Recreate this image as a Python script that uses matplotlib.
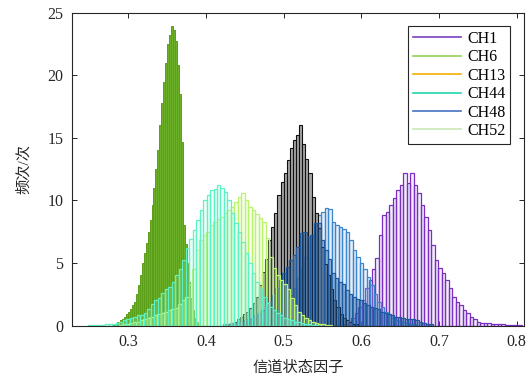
import numpy as np
import matplotlib
matplotlib.use("Agg")
import matplotlib.pyplot as plt
from matplotlib.lines import Line2D

plt.rcParams['font.family'] = ['Liberation Serif', 'Noto Sans CJK SC', 'DejaVu Sans']
plt.rcParams['mathtext.fontset'] = 'stix'

# ---- data: histogram heights (bin width, first bin centre, heights) ----
green_w, green_c0 = 0.0025, 0.28125
green_h = [0.1, 0.15, 0.3, 0.3, 0.4, 0.5, 0.7, 0.9, 1.1, 1.3, 1.6, 1.9, 2.5, 3.2, 4.0, 5.0,
           5.8, 6.6, 7.5, 8.4, 9.6, 11.0, 12.5, 14.0, 16.0, 17.8, 19.5, 21.0, 22.5, 23.2,
           23.9, 23.6, 22.7, 20.8, 18.5, 14.7, 8.0, 6.5, 5.0, 3.5, 2.2, 1.2, 0.6, 0.3, 0.1]

aqua_w, aqua_c0 = 0.0045, 0.25
aqua_h = [0.02, 0.03, 0.05, 0.05, 0.08, 0.1, 0.12, 0.15, 0.2, 0.3, 0.4, 0.5, 0.6, 0.7, 0.8,
          0.8, 1.0, 1.3, 1.7, 2.0, 2.2, 2.6, 2.9, 3.1, 3.5, 4.0, 4.5, 5.2, 6.2, 6.9, 7.6,
          8.4, 9.2, 10.0, 10.4, 10.8, 10.9, 11.2, 11.0, 10.7, 10.0, 9.0, 8.2, 7.5, 6.7,
          5.8, 5.0, 4.2, 3.5, 2.9, 2.3, 1.8, 1.5, 1.2, 1.0, 0.8, 0.6, 0.5, 0.4, 0.3, 0.25,
          0.2, 0.15, 0.1, 0.08, 0.05]

lime_w, lime_c0 = 0.0045, 0.29
lime_h = [0.05, 0.1, 0.15, 0.2, 0.25, 0.3, 0.4, 0.5, 0.6, 0.7, 0.8, 0.9, 1.0, 1.1, 1.2, 1.3,
          1.4, 1.7, 2.0, 2.3, 3.3, 4.5, 6.0, 6.8, 7.2, 7.5, 8.0, 8.3, 8.5, 8.7, 9.0, 9.2,
          9.5, 9.9, 10.3, 10.6, 10.0, 9.5, 9.2, 8.9, 8.6, 8.3, 7.0, 5.5, 4.6, 4.0, 3.6,
          3.3, 2.9, 2.2, 1.6, 1.1, 0.8, 0.6, 0.4, 0.3, 0.2, 0.15, 0.1, 0.08, 0.05]

gray_w, gray_c0 = 0.004, 0.43
gray_h = [0.1, 0.2, 0.3, 0.5, 0.7, 0.9, 1.1, 1.4, 1.8, 2.3, 3.2, 4.3, 5.3, 6.8, 7.9, 9.0,
          10.4, 11.5, 12.2, 13.2, 14.2, 14.8, 15.2, 16.0, 14.5, 13.3, 12.2, 10.3, 9.0,
          7.8, 6.3, 4.9, 4.0, 2.9, 2.0, 1.5, 0.9, 0.6, 0.4, 0.25, 0.15, 0.1]

dblue_w, dblue_c0 = 0.0045, 0.424
dblue_h = [0.1, 0.15, 0.2, 0.2, 0.25, 0.3, 0.4, 0.5,
           0.6, 0.8, 1.0, 1.2, 1.5, 1.9, 2.4, 3.0, 3.6, 4.2, 4.7, 5.2, 5.6, 6.3, 7.4, 7.5,
           7.1, 7.2, 8.2, 8.2, 6.8, 6.0, 5.3, 4.2, 3.8, 3.5, 3.3, 2.8, 2.5, 2.3, 2.1, 2.0,
           1.8, 1.6, 1.5, 1.4, 1.3, 1.1, 1.0, 0.9, 0.8, 0.7, 0.65, 0.6, 0.55, 0.5, 0.5,
           0.45, 0.3, 0.2, 0.15, 0.1]

lblue_w, lblue_c0 = 0.0045, 0.47
lblue_h = [0.1, 0.2, 0.3, 0.4, 0.5, 0.7, 1.0, 1.3, 1.8, 2.4, 3.0, 3.8, 4.6, 5.5, 6.4, 7.2,
           8.0, 8.8, 9.1, 9.4, 9.3, 8.3, 8.0, 7.9, 7.7, 7.5, 6.8, 6.0, 5.5, 5.0, 4.5, 3.9,
           3.2, 2.5, 1.9, 1.5, 1.1, 0.8, 0.6, 0.45, 0.35, 0.3, 0.2, 0.15, 0.1]

purple_w, purple_c0 = 0.0045, 0.58
purple_h = [0.1, 0.3, 0.6, 1.0, 1.5, 2.0, 3.0, 3.6, 4.5, 5.4, 7.2, 8.8, 9.1, 9.6, 10.2,
            10.8, 11.2, 12.2, 11.4, 12.2, 11.2, 10.6, 9.6, 8.7, 7.6, 6.4, 5.2, 4.6, 4.2,
            3.6, 3.0, 2.3, 1.9, 1.6, 1.2, 1.0, 0.7, 0.5, 0.3, 0.2, 0.2, 0.2, 0.15, 0.1, 0.1,
            0.1, 0.08, 0.05, 0.05, 0.03, 0.02]

legend_labels = ['CH1', 'CH6', 'CH13', 'CH44', 'CH48', 'CH52']
legend_colors = ['#7b3fc0', '#92d050', '#f5b000', '#1fd6ac', '#4472c4', '#c9e7b6']

x_ticks = [0.3, 0.4, 0.5, 0.6, 0.7, 0.8]
y_ticks = [0, 5, 10, 15, 20, 25]

# ---- figure ----
fig = plt.figure(figsize=(5.31, 3.77), dpi=100)
ax = fig.add_axes([0.1347, 0.1366, 0.853, 0.8297])


def draw(w, c0, h, face, edge, lw=0.8, z=2):
    h = np.asarray(h, dtype=float)
    centers = c0 + w * np.arange(len(h))
    ax.bar(centers, h, width=w, color=face, edgecolor=edge, linewidth=lw,
           zorder=z, align='center')


draw(purple_w, purple_c0, purple_h, (0.72, 0.6, 0.9, 0.18), '#7a2fc0', 0.9, z=2)
draw(lblue_w, lblue_c0, lblue_h, (0.6, 0.75, 0.92, 0.25), '#3c86cc', 0.9, z=3)
draw(gray_w, gray_c0, gray_h, (0.5, 0.5, 0.5, 0.7), '#111111', 0.8, z=4)
draw(dblue_w, dblue_c0, dblue_h, (0.12, 0.35, 0.62, 0.35), '#1d5aa0', 0.9, z=5)
draw(green_w, green_c0, green_h, '#6cb02a', '#5b9e1a', 0.7, z=6)
draw(lime_w, lime_c0, lime_h, (0.85, 1.0, 0.7, 0.2), '#b9f46c', 0.9, z=7)
draw(aqua_w, aqua_c0, aqua_h, (0.7, 1.0, 0.9, 0.15), '#5cf2c4', 0.9, z=8)

ax.set_xlim(0.227, 0.81)
ax.set_ylim(0, 25)
ax.set_xticks(x_ticks)
ax.set_xticklabels([f'{v:.1f}' for v in x_ticks])
ax.set_yticks(y_ticks)
ax.tick_params(direction='in', length=3.5, width=0.7, top=True, right=True,
               labelsize=11.5, colors='#262626', pad=6)
for s in ax.spines.values():
    s.set_color('#262626')
    s.set_linewidth(0.8)
    s.set_zorder(20)

ax.set_xlabel('信道状态因子', fontsize=11, color='#262626', labelpad=8)
ax.set_ylabel('频次/次', fontsize=11, color='#262626', labelpad=12)

handles = [Line2D([0], [0], color=c, lw=1.2) for c in legend_colors]
leg = ax.legend(handles, legend_labels, loc='upper right', bbox_to_anchor=(0.968, 0.957),
                fontsize=11.5, frameon=True, fancybox=False, framealpha=1,
                edgecolor='#262626', handlelength=3.0, handletextpad=0.4,
                labelspacing=0.15, borderpad=0.3, borderaxespad=0)
leg.get_frame().set_linewidth(0.8)
leg.set_zorder(30)

fig.savefig('out.png', dpi=100)
